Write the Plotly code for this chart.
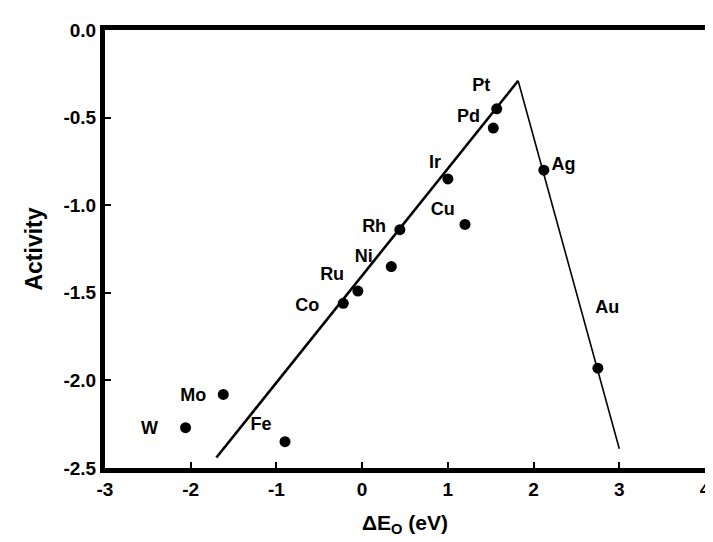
import plotly.graph_objects as go

# Data
metals = ["W", "Mo", "Fe", "Co", "Ru", "Ni", "Rh", "Cu", "Ir", "Pd", "Pt", "Ag", "Au"]
delta_e = [-2.06, -1.62, -0.90, -0.22, -0.05, 0.34, 0.44, 1.20, 1.00, 1.53, 1.57, 2.12, 2.75]
activity = [-2.27, -2.08, -2.35, -1.56, -1.49, -1.35, -1.14, -1.11, -0.85, -0.56, -0.45, -0.80, -1.93]
label_x = [-2.48, -1.97, -1.18, -0.64, -0.35, 0.02, 0.14, 0.94, 0.85, 1.24, 1.39, 2.35, 2.86]
label_y = [-2.28, -2.09, -2.26, -1.58, -1.40, -1.30, -1.13, -1.03, -0.76, -0.50, -0.32, -0.775, -1.59]

# Volcano lines
left_x = [-1.70, 1.82]
left_y = [-2.44, -0.29]
right_x = [1.82, 3.00]
right_y = [-0.29, -2.39]

x_ticks = [-3, -2, -1, 0, 1, 2, 3, 4]
y_ticks = [0.0, -0.5, -1.0, -1.5, -2.0, -2.5]

font_family = "Liberation Sans, Arial, sans-serif"

fig = go.Figure()
fig.add_trace(go.Scatter(x=left_x, y=left_y, mode="lines",
                         line=dict(color="black", width=2.6), showlegend=False))
fig.add_trace(go.Scatter(x=right_x, y=right_y, mode="lines",
                         line=dict(color="black", width=1.6), showlegend=False))
fig.add_trace(go.Scatter(x=delta_e, y=activity, mode="markers",
                         marker=dict(color="black", size=11), showlegend=False))
fig.add_trace(go.Scatter(x=label_x, y=label_y, mode="text", text=metals,
                         textfont=dict(family=font_family, size=18, color="black"),
                         texttemplate="<b>%{text}</b>",
                         showlegend=False))

fig.update_layout(
    width=713, height=542,
    margin=dict(l=97, r=10, t=22, b=82),
    plot_bgcolor="white", paper_bgcolor="white",
    font=dict(family=font_family, color="black"),
)
fig.update_xaxes(
    range=[-3, 4], tickvals=x_ticks, ticktext=[f"<b>{v}</b>" for v in x_ticks],
    showgrid=False, zeroline=False,
    showline=True, linecolor="black", linewidth=5, mirror=True,
    ticks="inside", ticklen=6, tickwidth=2, tickcolor="black",
    tickfont=dict(size=19, family=font_family), ticklabeloverflow="allow",
    title=dict(text="<b>ΔE<sub>O</sub> (eV)</b>", font=dict(size=21, family=font_family), standoff=18),
)
fig.update_yaxes(
    range=[-2.5, 0.0], tickvals=y_ticks, ticktext=[f"<b>{v:.1f}</b>" for v in y_ticks],
    showgrid=False, zeroline=False,
    showline=True, linecolor="black", linewidth=5, mirror=True,
    ticks="inside", ticklen=6, tickwidth=2, tickcolor="black",
    tickfont=dict(size=19, family=font_family), ticklabeloverflow="allow",
    title=dict(text="<b>Activity</b>", font=dict(size=23, family=font_family), standoff=16),
)

fig.write_html("out.html")
